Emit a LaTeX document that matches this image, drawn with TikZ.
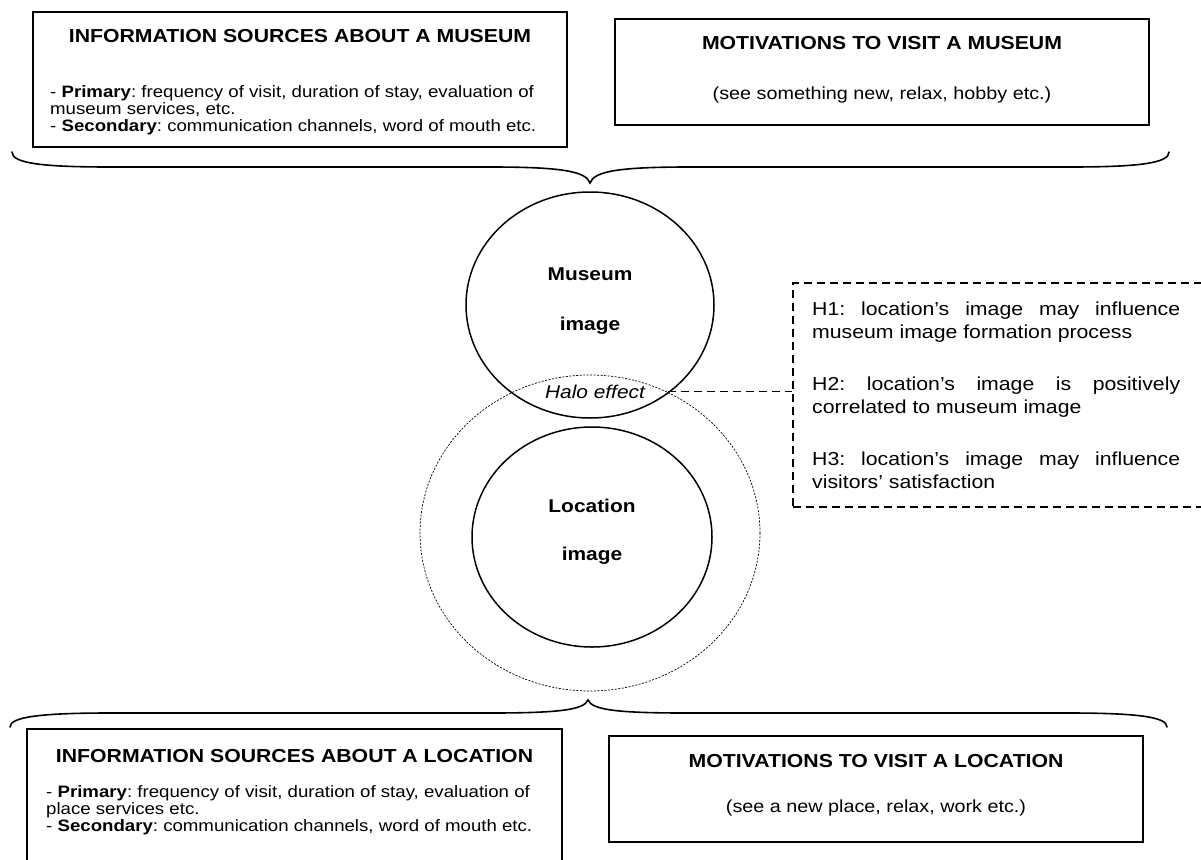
\documentclass[tikz,border=0pt]{standalone}
\usepackage{fontspec}
\setmainfont{Liberation Sans}[FakeStretch=1.13]
\usetikzlibrary{shapes.geometric}
\frenchspacing
\begin{document}
\begin{tikzpicture}[x=1pt,y=-1pt,
  box/.style={draw, line width=1.2pt, inner sep=0pt, minimum width=534pt},
  head/.style={font=\fontsize{18.8}{22}\selectfont\bfseries, inner sep=0pt, anchor=base},
  bodyline/.style={font=\fontsize{16.5}{17.5}\selectfont, inner sep=0pt, anchor=base west},
  subline/.style={font=\fontsize{17.5}{20}\selectfont, inner sep=0pt, anchor=base},
  hypline/.style={font=\fontsize{18.8}{22}\selectfont, inner sep=0pt, anchor=base west},
  imgline/.style={font=\fontsize{18.5}{22}\selectfont\bfseries, inner sep=0pt, anchor=base},
  imgcirc/.style={draw, ellipse, line width=1.5pt, inner sep=0pt},
  brace/.style={line width=1.6pt, line cap=round},
  hypdash/.style={draw, line width=1.3pt, dash pattern=on 8pt off 5pt}
]
\useasboundingbox (0,0) rectangle (1201,859);
\fill[white] (0,0) rectangle (1201,859);
\clip (0,0) rectangle (1201,859);

% ---------- top boxes ----------
\node[box, minimum height=135pt] (tlbox) at (300,79.5) {};
\node[head] (tlhead) at (300,43) {INFORMATION SOURCES ABOUT A MUSEUM};
\node[bodyline] (tl1) at (50,97) {- \textbf{Primary}: frequency of visit, duration of stay, evaluation of};
\node[bodyline] (tl2) at (50,114) {museum services, etc.};
\node[bodyline] (tl3) at (50,131) {- \textbf{Secondary}: communication channels, word of mouth etc.};

\node[box, minimum height=106pt] (trbox) at (882,72) {};
\node[head] (trhead) at (882,50) {MOTIVATIONS TO VISIT A MUSEUM};
\node[subline] (trsub) at (882,99) {(see something new, relax, hobby etc.)};

% ---------- top brace ----------
\draw[brace] (12,152) .. controls (12,163) and (40,167) .. (110,167) -- (490,167)
  .. controls (560,167) and (586,171) .. (590,183)
  .. controls (594,171) and (620,167) .. (690,167) -- (1070,167)
  .. controls (1140,167) and (1169,163) .. (1169,152);

% ---------- circles ----------
\node[draw, ellipse, line width=0.7pt, dash pattern=on 2pt off 1.5pt, minimum width=340pt, minimum height=316pt] (halocirc) at (590,533) {};
\node[imgcirc, minimum width=248pt, minimum height=226pt] (museum) at (590,305) {};
\node[imgcirc, minimum width=240pt, minimum height=220pt] (location) at (592,537) {};
\node[imgline] (mus1) at (590,280) {Museum};
\node[imgline] (mus2) at (590,330) {image};
\node[imgline] (loc1) at (592,512) {Location};
\node[imgline] (loc2) at (592,560) {image};
\node[font=\fontsize{18.5}{22}\selectfont\itshape, inner sep=0pt, anchor=base] (halo) at (595,398) {Halo effect};

% ---------- hypotheses ----------
\node[hypdash, minimum width=437pt, minimum height=224pt, inner sep=0pt] (hyp) at (1011.5,395) {};
\draw[line width=1.3pt, dash pattern=on 8pt off 5pt, shorten <=23pt] (halo.east) -- (hyp.west |- halo.east);
\node[hypline] (h1a) at (812,315) {\makebox[368pt][s]{H1: location’s image may influence}};
\node[hypline] (h1b) at (812,338) {museum image formation process};
\node[hypline] (h2a) at (812,390) {\makebox[368pt][s]{H2: location’s image is positively}};
\node[hypline] (h2b) at (812,413) {correlated to museum image};
\node[hypline] (h3a) at (812,465) {\makebox[368pt][s]{H3: location’s image may influence}};
\node[hypline] (h3b) at (812,488) {visitors’ satisfaction};

% ---------- bottom brace ----------
\draw[brace] (10,727) .. controls (10,717) and (40,713) .. (110,713) -- (490,713)
  .. controls (558,713) and (584,710) .. (588,700)
  .. controls (592,710) and (618,713) .. (686,713) -- (1068,713)
  .. controls (1138,713) and (1167,717) .. (1167,727);

% ---------- bottom boxes ----------
\node[box, minimum width=535pt, minimum height=151pt] (blbox) at (294.5,804.5) {};
\node[head] (blhead) at (294.5,762) {INFORMATION SOURCES ABOUT A LOCATION};
\node[bodyline] (bl1) at (46,797) {- \textbf{Primary}: frequency of visit, duration of stay, evaluation of};
\node[bodyline] (bl2) at (46,814) {place services etc.};
\node[bodyline] (bl3) at (46,831) {- \textbf{Secondary}: communication channels, word of mouth etc.};

\node[box, minimum height=106pt] (brbox) at (876,789) {};
\node[head] (brhead) at (876,767) {MOTIVATIONS TO VISIT A LOCATION};
\node[subline] (brsub) at (876,812) {(see a new place, relax, work etc.)};
\end{tikzpicture}
\end{document}
